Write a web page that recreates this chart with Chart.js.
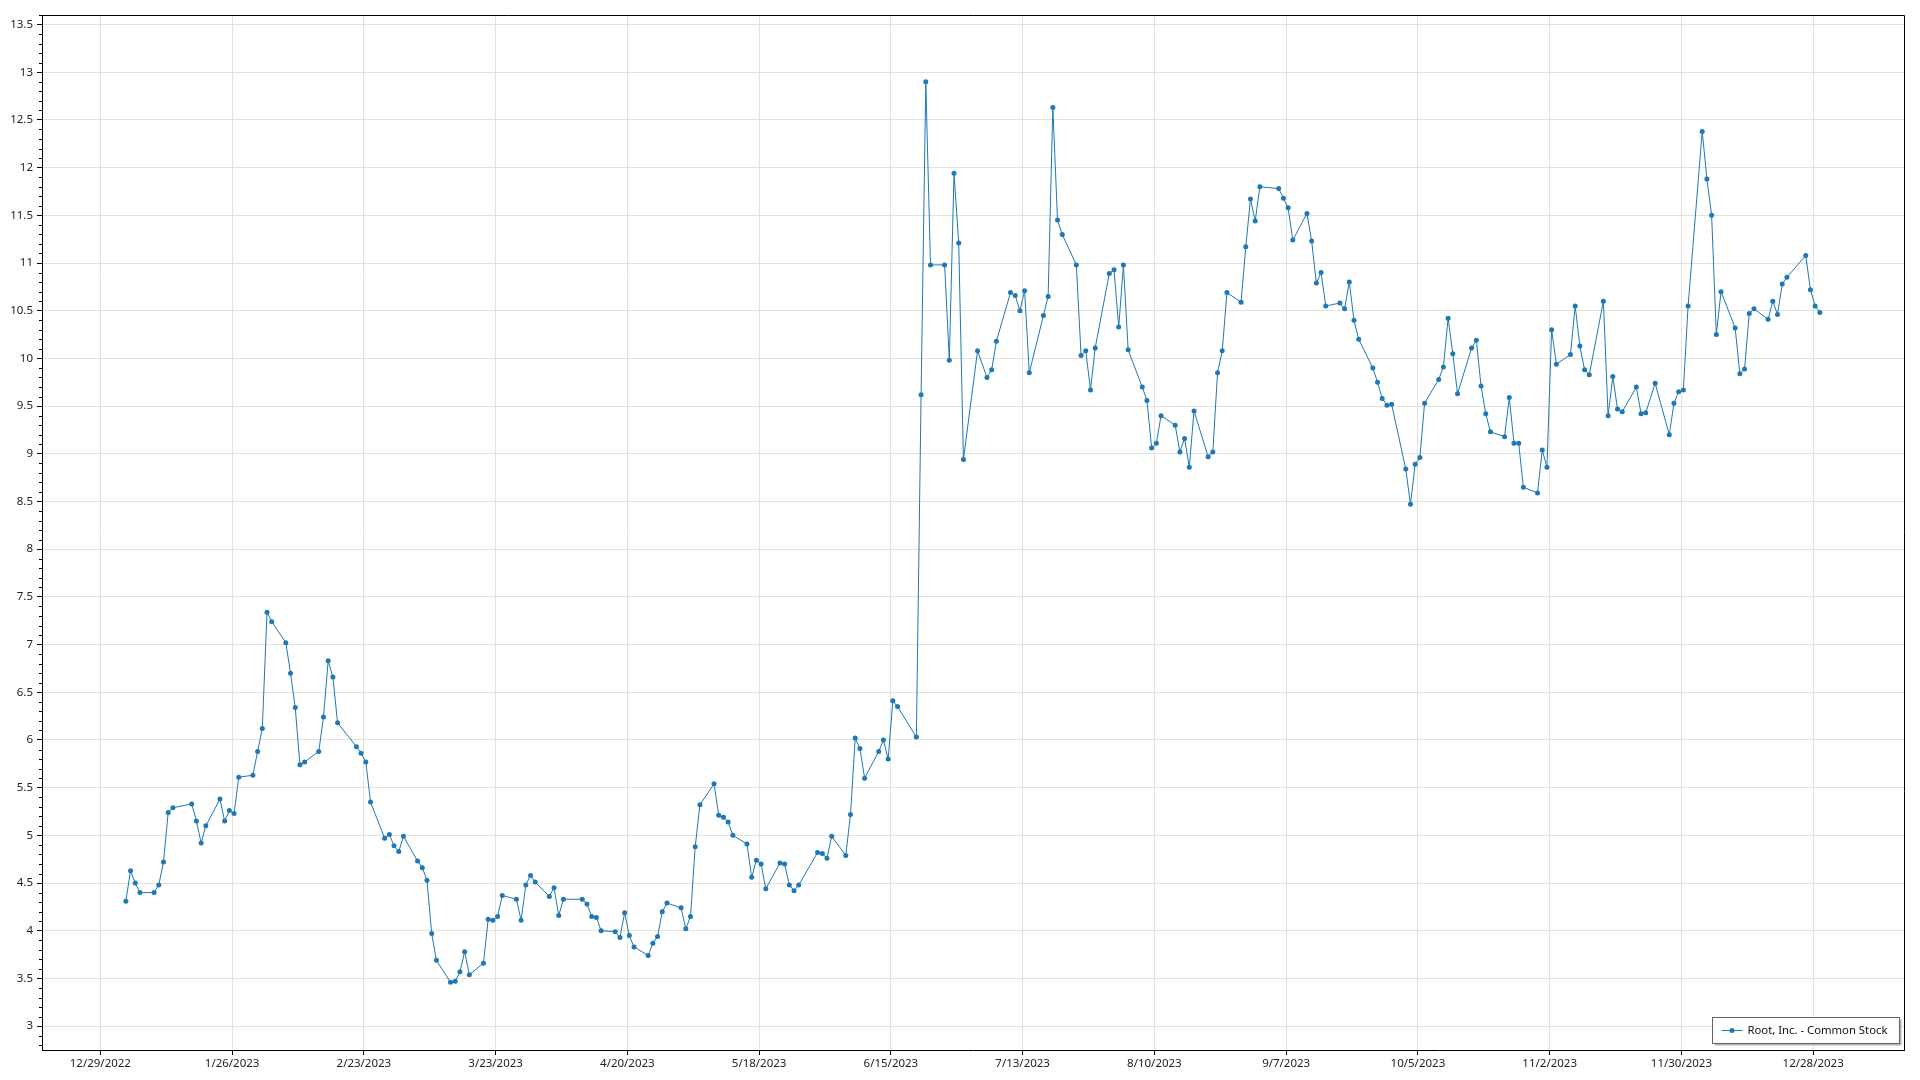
<!DOCTYPE html>
<html>
<head>
<meta charset="utf-8">
<title>Root, Inc. - Common Stock</title>
<script src="https://cdn.jsdelivr.net/npm/chart.js@4.4.1/dist/chart.umd.min.js"></script>
<style>
  html, body { margin: 0; padding: 0; background: #fff; }
  #wrap { width: 1920px; height: 1080px; }
</style>
</head>
<body>
<div id="wrap"><canvas id="chart"></canvas></div>
<script>
const seriesName = 'Root, Inc. - Common Stock';

// trading days
const dates = [
  '1/3/2023','1/4/2023','1/5/2023','1/6/2023','1/9/2023','1/10/2023','1/11/2023','1/12/2023','1/13/2023',
  '1/17/2023','1/18/2023','1/19/2023','1/20/2023','1/23/2023','1/24/2023','1/25/2023','1/26/2023','1/27/2023',
  '1/30/2023','1/31/2023',
  '2/1/2023','2/2/2023','2/3/2023','2/6/2023','2/7/2023','2/8/2023','2/9/2023','2/10/2023','2/13/2023',
  '2/14/2023','2/15/2023','2/16/2023','2/17/2023','2/21/2023','2/22/2023','2/23/2023','2/24/2023','2/27/2023',
  '2/28/2023',
  '3/1/2023','3/2/2023','3/3/2023','3/6/2023','3/7/2023','3/8/2023','3/9/2023','3/10/2023','3/13/2023',
  '3/14/2023','3/15/2023','3/16/2023','3/17/2023','3/20/2023','3/21/2023','3/22/2023','3/23/2023','3/24/2023',
  '3/27/2023','3/28/2023','3/29/2023','3/30/2023','3/31/2023',
  '4/3/2023','4/4/2023','4/5/2023','4/6/2023','4/10/2023','4/11/2023','4/12/2023','4/13/2023','4/14/2023',
  '4/17/2023','4/18/2023','4/19/2023','4/20/2023','4/21/2023','4/24/2023','4/25/2023','4/26/2023','4/27/2023',
  '4/28/2023',
  '5/1/2023','5/2/2023','5/3/2023','5/4/2023','5/5/2023','5/8/2023','5/9/2023','5/10/2023','5/11/2023',
  '5/12/2023','5/15/2023','5/16/2023','5/17/2023','5/18/2023','5/19/2023','5/22/2023','5/23/2023','5/24/2023',
  '5/25/2023','5/26/2023','5/30/2023','5/31/2023',
  '6/1/2023','6/2/2023','6/5/2023','6/6/2023','6/7/2023','6/8/2023','6/9/2023','6/12/2023','6/13/2023',
  '6/14/2023','6/15/2023','6/16/2023','6/20/2023','6/21/2023','6/22/2023','6/23/2023','6/26/2023','6/27/2023',
  '6/28/2023','6/29/2023','6/30/2023',
  '7/3/2023','7/5/2023','7/6/2023','7/7/2023','7/10/2023','7/11/2023','7/12/2023','7/13/2023','7/14/2023',
  '7/17/2023','7/18/2023','7/19/2023','7/20/2023','7/21/2023','7/24/2023','7/25/2023','7/26/2023','7/27/2023',
  '7/28/2023','7/31/2023',
  '8/1/2023','8/2/2023','8/3/2023','8/4/2023','8/7/2023','8/8/2023','8/9/2023','8/10/2023','8/11/2023',
  '8/14/2023','8/15/2023','8/16/2023','8/17/2023','8/18/2023','8/21/2023','8/22/2023','8/23/2023','8/24/2023',
  '8/25/2023','8/28/2023','8/29/2023','8/30/2023','8/31/2023',
  '9/1/2023','9/5/2023','9/6/2023','9/7/2023','9/8/2023','9/11/2023','9/12/2023','9/13/2023','9/14/2023',
  '9/15/2023','9/18/2023','9/19/2023','9/20/2023','9/21/2023','9/22/2023','9/25/2023','9/26/2023','9/27/2023',
  '9/28/2023','9/29/2023',
  '10/2/2023','10/3/2023','10/4/2023','10/5/2023','10/6/2023','10/9/2023','10/10/2023','10/11/2023','10/12/2023',
  '10/13/2023','10/16/2023','10/17/2023','10/18/2023','10/19/2023','10/20/2023','10/23/2023','10/24/2023','10/25/2023',
  '10/26/2023','10/27/2023','10/30/2023','10/31/2023',
  '11/1/2023','11/2/2023','11/3/2023','11/6/2023','11/7/2023','11/8/2023','11/9/2023','11/10/2023','11/13/2023',
  '11/14/2023','11/15/2023','11/16/2023','11/17/2023','11/20/2023','11/21/2023','11/22/2023','11/24/2023','11/27/2023',
  '11/28/2023','11/29/2023','11/30/2023',
  '12/1/2023','12/4/2023','12/5/2023','12/6/2023','12/7/2023','12/8/2023','12/11/2023','12/12/2023','12/13/2023',
  '12/14/2023','12/15/2023','12/18/2023','12/19/2023','12/20/2023','12/21/2023','12/22/2023','12/26/2023','12/27/2023',
  '12/28/2023','12/29/2023'
];

const prices = [
  4.31, 4.63, 4.50, 4.40, 4.40, 4.48, 4.72, 5.24, 5.29,
  5.33, 5.15, 4.92, 5.10, 5.38, 5.15, 5.26, 5.23, 5.61,
  5.63, 5.88,
  6.12, 7.34, 7.24, 7.02, 6.70, 6.34, 5.74, 5.77, 5.88,
  6.24, 6.83, 6.66, 6.18, 5.93, 5.86, 5.77, 5.35, 4.97,
  5.01,
  4.89, 4.83, 4.99, 4.73, 4.66, 4.53, 3.97, 3.69, 3.46,
  3.47, 3.57, 3.78, 3.54, 3.66, 4.12, 4.11, 4.15, 4.37,
  4.33, 4.11, 4.48, 4.58, 4.51,
  4.36, 4.45, 4.16, 4.33, 4.33, 4.28, 4.15, 4.14, 4.00,
  3.99, 3.93, 4.19, 3.95, 3.83, 3.74, 3.87, 3.94, 4.20,
  4.29,
  4.24, 4.02, 4.15, 4.88, 5.32, 5.54, 5.21, 5.19, 5.14,
  5.00, 4.91, 4.56, 4.74, 4.70, 4.44, 4.71, 4.70, 4.48,
  4.42, 4.48, 4.82, 4.81,
  4.76, 4.99, 4.79, 5.22, 6.02, 5.91, 5.60, 5.88, 6.00,
  5.80, 6.41, 6.35, 6.03, 9.62, 12.90, 10.98, 10.98, 9.98,
  11.94, 11.21, 8.94,
  10.08, 9.80, 9.88, 10.18, 10.69, 10.66, 10.50, 10.71, 9.85,
  10.45, 10.65, 12.63, 11.45, 11.30, 10.98, 10.03, 10.08, 9.67,
  10.11, 10.89,
  10.93, 10.33, 10.98, 10.09, 9.70, 9.56, 9.06, 9.11, 9.40,
  9.30, 9.02, 9.16, 8.86, 9.45, 8.97, 9.02, 9.85, 10.08,
  10.69, 10.59, 11.17, 11.67, 11.44,
  11.80, 11.78, 11.68, 11.58, 11.24, 11.52, 11.23, 10.79, 10.90,
  10.55, 10.58, 10.52, 10.80, 10.40, 10.20, 9.90, 9.75, 9.58,
  9.51, 9.52,
  8.84, 8.47, 8.89, 8.96, 9.53, 9.78, 9.91, 10.42, 10.05,
  9.63, 10.11, 10.19, 9.71, 9.42, 9.23, 9.18, 9.59, 9.11,
  9.11, 8.65, 8.59, 9.04,
  8.86, 10.30, 9.94, 10.04, 10.55, 10.13, 9.88, 9.83, 10.60,
  9.40, 9.81, 9.47, 9.44, 9.70, 9.42, 9.43, 9.74, 9.20,
  9.53, 9.65, 9.67,
  10.55, 12.38, 11.88, 11.50, 10.25, 10.70, 10.32, 9.84, 9.89,
  10.47, 10.52, 10.41, 10.60, 10.46, 10.78, 10.85, 11.08, 10.72,
  10.55, 10.48
];

const tickLabels = [
  '12/29/2022','1/26/2023','2/23/2023','3/23/2023','4/20/2023','5/18/2023','6/15/2023',
  '7/13/2023','8/10/2023','9/7/2023','10/5/2023','11/2/2023','11/30/2023','12/28/2023'
];

// prices are stamped at 10:00, ticks sit at midnight
const sampleHour = 10;

// days counted from the first tick
function dayNum(s, hour) {
  const [m, d, y] = s.split('/').map(Number);
  return (Date.UTC(y, m - 1, d, hour || 0) - Date.UTC(2022, 11, 29)) / 86400000;
}

const lineColor = '#1f77b4';
const fontFamily = '"Segoe UI", "Noto Sans", sans-serif';

const points = dates.map((d, i) => ({ x: dayNum(d, sampleHour), y: prices[i] }));

// black frame + small ticks on the y axis
const framePlugin = {
  id: 'frame',
  afterDraw(chart) {
    const ctx = chart.ctx;
    const a = chart.chartArea;
    const y = chart.scales.y;
    ctx.save();
    ctx.strokeStyle = '#000';
    ctx.lineWidth = 1;
    ctx.beginPath();
    ctx.moveTo(a.left, a.top + 0.5);
    ctx.lineTo(a.right + 0.5, a.top + 0.5);
    ctx.lineTo(a.right + 0.5, a.bottom);
    ctx.stroke();
    ctx.beginPath();
    for (let k = Math.ceil(y.min * 10); k <= Math.floor(y.max * 10); k++) {
      if (k % 5 === 0) continue;
      const py = Math.round(y.getPixelForValue(k / 10)) + 0.5;
      ctx.moveTo(a.left - 3, py);
      ctx.lineTo(a.left, py);
    }
    ctx.stroke();
    ctx.restore();
  }
};

// legend box in the lower right corner
const legendPlugin = {
  id: 'cornerLegend',
  afterDraw(chart) {
    const ctx = chart.ctx;
    const a = chart.chartArea;
    const ds = chart.data.datasets[0];
    ctx.save();
    ctx.font = '11.3px ' + fontFamily;
    const tw = ctx.measureText(ds.label).width;
    const w = Math.round(35 + tw + 12);
    const h = 26;
    const x = Math.round(a.right - 5 - w) + 0.5;
    const yTop = Math.round(a.bottom - 7 - h) + 0.5;
    ctx.fillStyle = '#b4b4b4';
    ctx.fillRect(x + 2, yTop + 2, w, h);
    ctx.fillStyle = '#fff';
    ctx.fillRect(x, yTop, w, h);
    ctx.strokeStyle = '#646464';
    ctx.lineWidth = 1;
    ctx.strokeRect(x, yTop, w, h);
    const cy = yTop + h / 2;
    ctx.strokeStyle = ds.borderColor;
    ctx.beginPath();
    ctx.moveTo(x + 9, cy);
    ctx.lineTo(x + 30, cy);
    ctx.stroke();
    ctx.fillStyle = ds.pointBackgroundColor;
    ctx.beginPath();
    ctx.arc(x + 19.5, cy, 2.5, 0, Math.PI * 2);
    ctx.fill();
    ctx.fillStyle = '#111';
    ctx.textBaseline = 'middle';
    ctx.fillText(ds.label, x + 35, cy);
    ctx.restore();
  }
};

new Chart(document.getElementById('chart'), {
  type: 'line',
  data: {
    datasets: [{
      label: seriesName,
      data: points,
      borderColor: lineColor,
      borderWidth: 1,
      pointRadius: 2.5,
      pointBorderWidth: 0,
      pointBackgroundColor: lineColor,
      tension: 0
    }]
  },
  options: {
    responsive: true,
    maintainAspectRatio: false,
    animation: false,
    layout: { padding: { top: 15, right: 16, left: 0, bottom: 0 } },
    plugins: {
      legend: { display: false },
      tooltip: { enabled: false }
    },
    scales: {
      x: {
        type: 'linear',
        min: -12.4,
        max: 383.3,
        afterFit(scale) { scale.height = 30; },
        afterBuildTicks(scale) {
          scale.ticks = tickLabels.map(s => ({ value: dayNum(s) }));
        },
        ticks: {
          autoSkip: false,
          maxRotation: 0,
          padding: 2,
          color: '#222',
          font: { family: fontFamily, size: 11.5 },
          callback: (v, i) => tickLabels[i]
        },
        grid: { color: '#e1e1e1', tickColor: '#000', tickLength: 5 },
        border: { color: '#000', width: 1 }
      },
      y: {
        min: 2.75,
        max: 13.6,
        afterFit(scale) { scale.width = 42; },
        ticks: {
          stepSize: 0.5,
          includeBounds: false,
          maxTicksLimit: 40,
          padding: 4,
          color: '#222',
          font: { family: fontFamily, size: 11.5 },
          callback: v => String(v)
        },
        grid: { color: '#e1e1e1', tickColor: '#000', tickLength: 5 },
        border: { color: '#000', width: 1 }
      }
    }
  },
  plugins: [framePlugin, legendPlugin]
});
</script>
</body>
</html>
